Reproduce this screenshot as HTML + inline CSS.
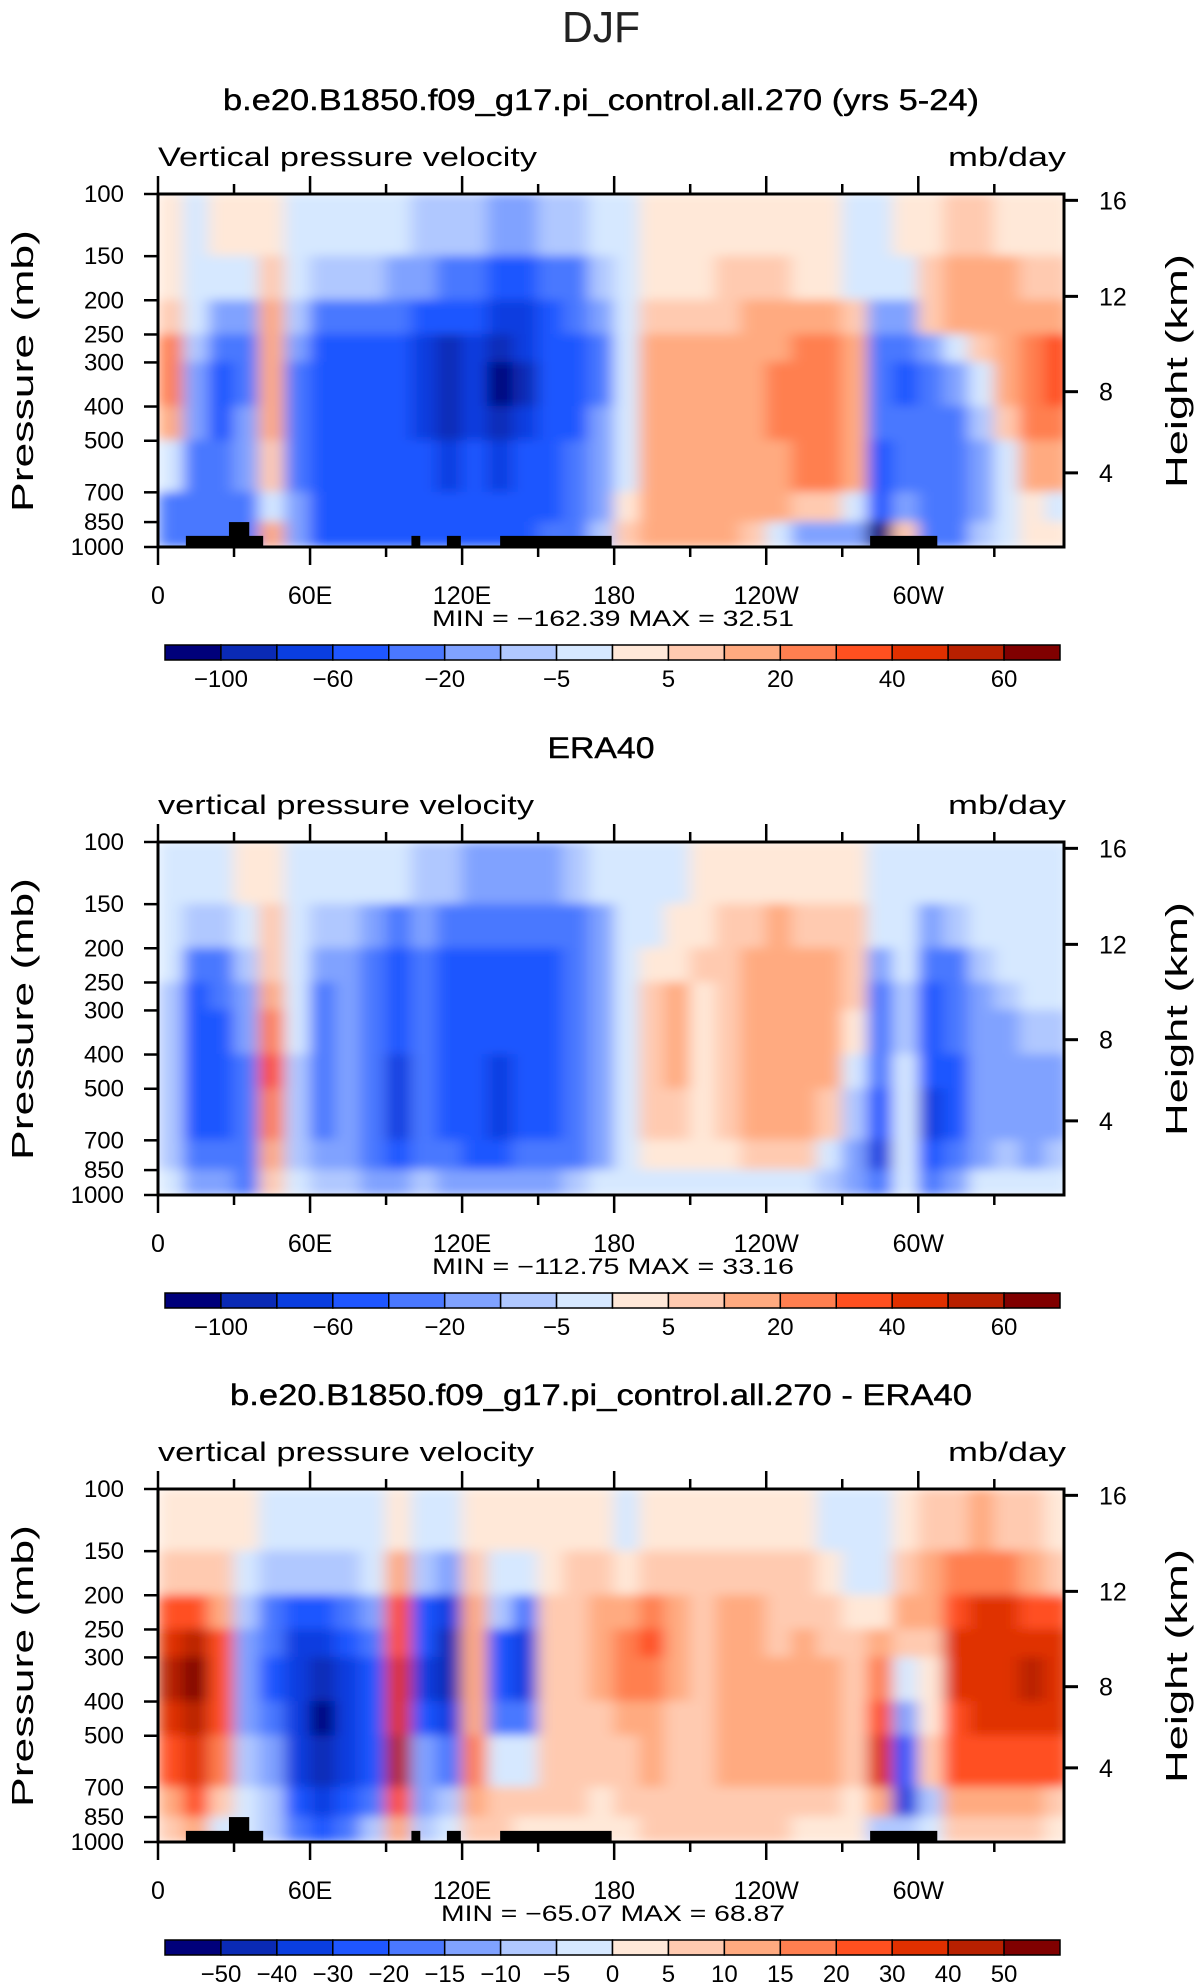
<!DOCTYPE html>
<html><head><meta charset="utf-8">
<style>
html,body{margin:0;padding:0;background:#fff;}
svg{display:block;font-family:"Liberation Sans",sans-serif;}
</style></head>
<body>
<svg id="chart" xmlns="http://www.w3.org/2000/svg" width="1203" height="1987" viewBox="0 0 1203 1987">
<defs>
<filter id="smooth" x="-5%" y="-5%" width="110%" height="110%"><feGaussianBlur stdDeviation="8 5" edgeMode="duplicate"/></filter>
</defs>
<text x="601" y="42" text-anchor="middle" font-size="44" font-weight="100" fill="#222" textLength="78" lengthAdjust="spacingAndGlyphs">DJF</text>
</svg>
<script>
// ---- data ----
const lonEdges = [0,10,20,30,40,50,60,70,80,90,100,110,120,130,140,150,160,170,180,190,200,210,220,230,240,250,260,270,280,290,300,310,320,330,340,350,360];
const presEdges = [100,150,200,250,300,400,500,700,850,1000];
const colors = ["#00007a","#0a2ab5","#0a3ee0","#1f56ff","#4a78ff","#80a2ff","#b0c8ff","#d6e8ff","#ffe8d8","#ffcab0","#ffaa80","#ff7f50","#ff5020","#e03000","#b82000","#800000"];
const levelsAbs = [-100,-80,-60,-40,-20,-10,-5,0,5,10,20,30,40,50,60];
const labelsAbs = ["−100","","−60","","−20","","−5","","5","","20","","40","","60"];
const levelsDiff = [-50,-40,-30,-20,-15,-10,-5,0,5,10,15,20,30,40,50];
const labelsDiff = ["−50","−40","−30","−20","−15","−10","−5","0","5","10","15","20","30","40","50"];
const xTickLons = [0,60,120,180,240,300];
const xTickLabels = ["0","60E","120E","180","120W","60W"];
const pTicks = [100,150,200,250,300,400,500,700,850,1000];
const hTicks = [16,12,8,4];
const hTickFrac = [0.018,0.29,0.56,0.79];
// rows: 100-150 ... 850-1000, one column per 10 deg
const model = [
[2,3,8,20,25,15,-5,-25,-30],[-2,-2,-5,-10,-15,-20,-30,-30,-30],[2,-5,-20,-40,-50,-50,-40,-30,-40],[3,-5,-15,-30,-25,-20,-20,-30,-40],
[2,5,10,15,15,10,5,-5,10],[-2,-5,-10,-20,-30,-30,-30,-20,-20],[-3,-10,-25,-50,-55,-55,-55,-50,-50],[-3,-10,-30,-55,-60,-60,-55,-55,-50],
[-4,-10,-30,-55,-60,-55,-50,-50,-45],[-5,-15,-35,-50,-55,-55,-50,-50,-45],[-8,-20,-50,-70,-75,-70,-60,-55,-50],[-10,-30,-60,-85,-100,-85,-65,-55,-50],
[-10,-40,-60,-70,-70,-65,-55,-50,-45],[-15,-50,-70,-90,-110,-90,-70,-50,-45],[-15,-45,-65,-80,-85,-75,-60,-50,-45],[-10,-40,-55,-60,-60,-55,-50,-45,-40],
[-8,-30,-40,-45,-45,-45,-40,-35,-30],[-5,-10,-20,-25,-25,-20,-20,-15,-8],[-3,-5,-5,-5,-3,-2,-2,2,5],[2,3,8,10,12,12,12,12,12],
[2,3,5,12,15,15,15,15,12],[2,3,5,10,15,15,15,15,15],[3,5,8,10,15,15,15,15,10],[2,5,10,15,15,18,15,15,5],
[2,5,12,15,25,25,15,10,-5],[2,3,12,22,25,25,20,5,-15],[2,3,10,25,25,25,20,5,-20],[-2,-3,5,15,15,15,10,-5,-20],
[-3,-5,-20,-40,-40,-40,-45,-60,-110],[2,-3,-15,-40,-45,-40,-30,-15,5],[3,8,5,-20,-35,-35,-35,-40,-40],[5,10,10,-5,-20,-25,-25,-25,-25],
[5,15,12,8,-5,-10,-15,-15,-10],[3,10,15,15,10,5,-3,-5,-3],[3,8,15,25,25,20,10,0,2],[2,5,15,30,35,25,10,-3,2]];
const era = [
[-3,-5,-5,-10,-10,-10,-10,-10,-5],[-3,-10,-30,-45,-50,-55,-50,-40,-20],[-2,-8,-25,-40,-45,-45,-45,-35,-20],[2,-5,-10,-20,-20,-30,-40,-25,-30],
[3,5,5,10,20,30,25,15,5],[-2,-3,-5,-5,-5,-8,-10,-10,-5],[-3,-10,-20,-25,-25,-25,-25,-20,-10],[-3,-8,-15,-15,-15,-15,-20,-15,-8],
[-3,-15,-35,-40,-40,-40,-40,-35,-15],[-5,-25,-50,-55,-60,-70,-75,-50,-20],[-8,-20,-35,-35,-35,-35,-40,-30,-10],[-10,-35,-50,-55,-55,-55,-50,-40,-20],
[-12,-40,-55,-55,-50,-50,-50,-45,-20],[-15,-40,-55,-60,-60,-65,-70,-50,-20],[-15,-40,-50,-55,-55,-55,-55,-40,-20],[-12,-35,-45,-45,-45,-45,-45,-35,-15],
[-10,-30,-35,-35,-35,-35,-35,-25,-10],[-5,-15,-20,-20,-20,-20,-20,-15,-5],[-2,-3,-3,-3,-3,-2,-2,-3,-2],[-2,-3,3,5,8,8,5,2,-2],
[-2,2,3,10,12,10,5,2,-2],[3,3,5,3,3,2,2,2,-2],[3,5,5,5,8,8,5,2,-3],[3,5,10,10,12,12,10,5,-3],
[3,10,12,15,15,12,10,5,-5],[3,8,10,15,15,15,10,5,-5],[3,8,10,12,12,12,8,-5,-10],[3,5,5,5,2,-5,-10,-20,-20],
[-2,-5,-15,-25,-30,-40,-60,-80,-30],[-3,-5,-5,-10,-10,-5,-5,-5,-3],[-3,-15,-40,-50,-55,-60,-70,-60,-30],[-3,-10,-30,-40,-40,-45,-45,-40,-15],
[-3,-5,-10,-15,-20,-20,-20,-15,-5],[-3,-3,-5,-10,-15,-20,-20,-10,-5],[-3,-3,-3,-5,-10,-15,-15,-15,-5],[-3,-3,-3,-5,-10,-15,-15,-10,-5]];
const diff = [
[2,5,20,35,40,35,25,10,5],[3,8,25,40,50,45,35,20,10],[3,5,10,20,25,20,15,5,-5],[2,-5,-10,-15,-15,-15,-10,-5,-5],
[-3,-10,-20,-20,-25,-20,-15,-10,-10],[-3,-10,-25,-35,-40,-40,-35,-30,-20],[-3,-10,-30,-40,-45,-55,-50,-40,-25],[-3,-10,-20,-25,-35,-40,-40,-30,-20],
[-2,-5,-15,-20,-25,-25,-25,-20,-10],[3,10,20,25,30,35,40,25,10],[-3,-10,-25,-30,-35,-30,-15,-15,-10],[-3,-15,-40,-45,-50,-40,-20,-10,-5],
[2,5,10,10,10,10,15,10,5],[2,-5,-10,-25,-30,-20,-5,5,5],[2,-5,-20,-40,-35,-20,-5,5,3],[2,3,5,5,5,5,5,5,3],
[3,5,8,8,8,8,8,5,3],[3,5,10,10,10,8,5,3,3],[-2,3,10,15,15,12,8,5,3],[3,8,15,20,15,12,10,8,5],
[3,5,10,10,10,8,8,8,5],[3,5,8,8,8,8,8,8,5],[3,8,10,12,10,10,10,8,5],[3,8,10,10,10,10,10,8,5],
[3,5,8,8,10,12,10,8,5],[3,5,8,10,12,12,10,8,3],[-2,3,5,8,10,10,10,8,3],[-2,-2,3,5,5,8,5,3,2],
[-3,-3,3,10,15,20,30,10,-10],[3,5,10,5,-5,-15,-30,-40,-10],[5,10,10,5,2,3,5,-10,-5],[8,15,25,30,30,25,20,10,5],
[10,15,30,35,35,35,25,12,5],[8,15,30,35,35,35,25,12,5],[5,12,25,35,40,35,25,10,5],[3,8,20,30,35,30,20,8,3]];
// topography blocks [lon0, lon1, top pressure]
const topo = [[11,41.5,930],[28,36,850],[100,103.5,930],[114,119.5,930],[135,179,930],[281,307.5,930]];

// ---- layout ----
const NS="http://www.w3.org/2000/svg";
const svg=document.getElementById('chart');
const X0=158, X1=1064, PH=353, PXDEG=(X1-X0)/357.5;
function xOf(lon){return X0+lon*PXDEG;}
function mk(tag,attrs,parent){const e=document.createElementNS(NS,tag);for(const k in attrs)e.setAttribute(k,attrs[k]);(parent||svg).appendChild(e);return e;}
function colorFor(v,lv){let i=0;while(i<lv.length&&v>=lv[i])i++;return colors[i];}

function panel(idx,y0,data,lv,labs,title,titleLen,subtitle,subLen,minmax,mmLen,withTopo){
  const yOf=p=>y0+PH*Math.log(p/100)/Math.log(10);
  const g=mk('g',{});
  
  
  const t=mk('text',{x:601,y:y0-84,'text-anchor':'middle','font-size':30,fill:'#000',stroke:'#000','stroke-width':0.4,textLength:titleLen,lengthAdjust:'spacingAndGlyphs'},g);
  t.textContent=title;
  
  
  const s=mk('text',{x:158,y:y0-28,'font-size':27,fill:'#000',textLength:subLen,lengthAdjust:'spacingAndGlyphs'},g);
  s.textContent=subtitle;
  
  
  const u=mk('text',{x:1066,y:y0-28,'font-size':27,fill:'#000','text-anchor':'end',textLength:118,lengthAdjust:'spacingAndGlyphs'},g);
  u.textContent='mb/day';
  
  
  const cp=mk('clipPath',{id:'clip'+idx},g);
  mk('rect',{x:X0,y:y0,width:X1-X0,height:PH},cp);
  const outer=mk('g',{'clip-path':'url(#clip'+idx+')'},g);
  
  
  const inner=mk('g',{filter:'url(#smooth)'},outer);
  data.forEach((col,ci)=>{
    col.forEach((v,ri)=>{
      const r=mk('rect',{x:xOf(lonEdges[ci])-0.5,y:yOf(presEdges[ri])-0.5,width:xOf(lonEdges[ci+1])-xOf(lonEdges[ci])+1,height:yOf(presEdges[ri+1])-yOf(presEdges[ri])+1,fill:colorFor(v,lv)},inner);
      
      
    });
  });
  if(withTopo){
    topo.forEach(b=>{
      const r=mk('rect',{x:xOf(b[0]),y:yOf(b[2]),width:xOf(b[1])-xOf(b[0]),height:y0+PH-yOf(b[2]),fill:'#000'},g);
      
      
    });
  }
  const fr=mk('rect',{x:X0,y:y0,width:X1-X0,height:PH,fill:'none',stroke:'#000','stroke-width':3},g);
  
  
  for(let lon=0;lon<=330;lon+=30){
    const L=lon%60===0?18:10,x=xOf(lon);
    mk('line',{x1:x,x2:x,y1:y0,y2:y0-L,stroke:'#000','stroke-width':2.5},g);
    mk('line',{x1:x,x2:x,y1:y0+PH,y2:y0+PH+L,stroke:'#000','stroke-width':2.5},g);
  }
  xTickLons.forEach((lon,i)=>{
    const tx=mk('text',{x:xOf(lon),y:y0+PH+57,'text-anchor':'middle','font-size':25,fill:'#000'},g);
    tx.textContent=xTickLabels[i];
    
    
  });
  pTicks.forEach(p=>{
    const y=yOf(p);
    mk('line',{x1:X0,x2:X0-14,y1:y,y2:y,stroke:'#000','stroke-width':2.5},g);
    const tx=mk('text',{x:124,y:y+8,'text-anchor':'end','font-size':24,fill:'#000'},g);
    tx.textContent=p;
    
    
  });
  hTicks.forEach((h,i)=>{
    const y=y0+PH*hTickFrac[i];
    mk('line',{x1:X1,x2:X1+14,y1:y,y2:y,stroke:'#000','stroke-width':3},g);
    const tx=mk('text',{x:1099,y:y+9,'font-size':25,fill:'#000'},g);
    tx.textContent=h;
    
    
  });
  const yl=mk('text',{x:0,y:0,'text-anchor':'middle','font-size':31,fill:'#000',transform:`translate(33,${y0+177}) rotate(-90)`,textLength:282,lengthAdjust:'spacingAndGlyphs'},g);
  yl.textContent='Pressure  (mb)';
  
  
  const hl=mk('text',{x:0,y:0,'text-anchor':'middle','font-size':31,fill:'#000',transform:`translate(1187,${y0+177}) rotate(-90)`,textLength:234,lengthAdjust:'spacingAndGlyphs'},g);
  hl.textContent='Height  (km)';
  
  
  const mm=mk('text',{x:613,y:y0+PH+79,'text-anchor':'middle','font-size':22,fill:'#000',textLength:mmLen,lengthAdjust:'spacingAndGlyphs'},g);
  mm.textContent=minmax;
  
  
  const cy=y0+451, cx0=165, cw=(1060-165)/16;
  colors.forEach((c,i)=>{
    const r=mk('rect',{x:cx0+i*cw,y:cy,width:cw,height:15,fill:c,stroke:'#000','stroke-width':1.5},g);
    
    
  });
  labs.forEach((l,i)=>{
    if(!l)return;
    const tx=mk('text',{x:cx0+(i+1)*cw,y:cy+42,'text-anchor':'middle','font-size':24,fill:'#000'},g);
    tx.textContent=l;
    
    
  });
}
panel(1,194,model,levelsAbs,labelsAbs,'b.e20.B1850.f09_g17.pi_control.all.270 (yrs 5-24)',756,'Vertical pressure velocity',379,'MIN = −162.39   MAX =   32.51',362,true);
panel(2,842,era,levelsAbs,labelsAbs,'ERA40',107,'vertical pressure velocity',376,'MIN = −112.75   MAX =   33.16',362,false);
panel(3,1489,diff,levelsDiff,labelsDiff,'b.e20.B1850.f09_g17.pi_control.all.270 - ERA40',742,'vertical pressure velocity',376,'MIN = −65.07   MAX =   68.87',344,true);
</script>
</body></html>
